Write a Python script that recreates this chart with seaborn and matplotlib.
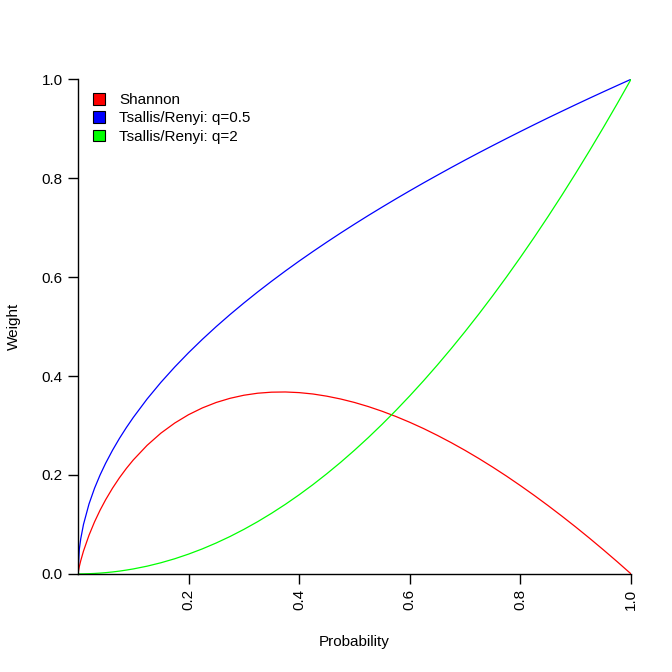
import pandas as pd
import matplotlib
matplotlib.use("Agg")
import matplotlib.pyplot as plt
from matplotlib.patches import Patch
import seaborn as sns

# valores
prob = [0, 0.0025, 0.005, 0.01, 0.02, 0.03, 0.04, 0.05, 0.0625, 0.075, 0.0875,
        0.1, 0.125, 0.15, 0.175, 0.2, 0.225, 0.25, 0.275, 0.3, 0.325,
        0.35, 0.375, 0.4, 0.425, 0.45, 0.475, 0.5, 0.525, 0.55, 0.575,
        0.6, 0.625, 0.65, 0.675, 0.7, 0.725, 0.75, 0.775, 0.8, 0.825,
        0.85, 0.875, 0.9, 0.925, 0.95, 0.975, 1.0]
shannon = [0, 0.0150, 0.0265, 0.0461, 0.0782, 0.1052, 0.1288, 0.1498, 0.1733, 0.1943, 0.2132,
           0.2303, 0.2599, 0.2846, 0.3050, 0.3219, 0.3356, 0.3466, 0.3550, 0.3612, 0.3653,
           0.3674, 0.3678, 0.3665, 0.3637, 0.3593, 0.3536, 0.3466, 0.3383, 0.3288, 0.3182,
           0.3065, 0.2938, 0.2800, 0.2653, 0.2497, 0.2332, 0.2158, 0.1976, 0.1785, 0.1587,
           0.1381, 0.1168, 0.0948, 0.0721, 0.0487, 0.0247, 0]
q05 = [0, 0.05, 0.0707, 0.1, 0.1414, 0.1732, 0.2, 0.2236, 0.25, 0.2739, 0.2958,
       0.3162, 0.3536, 0.3873, 0.4183, 0.4472, 0.4743, 0.5, 0.5244, 0.5477, 0.5701,
       0.5916, 0.6124, 0.6325, 0.6519, 0.6708, 0.6892, 0.7071, 0.7246, 0.7416, 0.7583,
       0.7746, 0.7906, 0.8062, 0.8216, 0.8367, 0.8515, 0.8660, 0.8803, 0.8944, 0.9083,
       0.9220, 0.9354, 0.9487, 0.9618, 0.9747, 0.9874, 1.0]
q2 = [0, 0.0000, 0.00003, 0.0001, 0.0004, 0.0009, 0.0016, 0.0025, 0.0039, 0.0056, 0.0077,
      0.01, 0.0156, 0.0225, 0.0306, 0.04, 0.0506, 0.0625, 0.0756, 0.09, 0.1056,
      0.1225, 0.1406, 0.16, 0.1806, 0.2025, 0.2256, 0.25, 0.2756, 0.3025, 0.3306,
      0.36, 0.3906, 0.4225, 0.4556, 0.49, 0.5256, 0.5625, 0.6006, 0.64, 0.6806,
      0.7225, 0.7656, 0.81, 0.8556, 0.9025, 0.9506, 1.0]
series = ["Shannon", "Tsallis/Renyi: q=0.5", "Tsallis/Renyi: q=2"]
colores = ["#ff0000", "#0000ff", "#00ff00"]
xticks = [0.2, 0.4, 0.6, 0.8, 1.0]
yticks = [0.0, 0.2, 0.4, 0.6, 0.8, 1.0]

df = pd.concat([
    pd.DataFrame({"Probability": prob, "Weight": v, "serie": s})
    for s, v in zip(series, [shannon, q05, q2])
])

sns.set_theme(style="white")
plt.rcParams['font.family'] = ['Liberation Sans', 'DejaVu Sans']
plt.rcParams['text.color'] = 'black'
fs = 11

fig = plt.figure(figsize=(6.72, 6.72), dpi=100)
ax = fig.add_axes([0.116, 0.146, 0.823, 0.736])
sns.lineplot(data=df, x="Probability", y="Weight", hue="serie", palette=colores,
             hue_order=series, linewidth=0.9, ax=ax, legend=False, sort=False)

ax.set_xlim(0, 1)
ax.set_ylim(0, 1)
ax.set_xticks(xticks)
ax.set_xticklabels([f"{t:.1f}" for t in xticks], rotation=90)
ax.set_yticks(yticks)
ax.set_yticklabels([f"{t:.1f}" for t in yticks])
ax.tick_params(axis="both", direction="out", length=7, width=1, color="black",
               labelsize=fs, labelcolor="black", pad=4,
               bottom=True, left=True)
for lado in ["top", "right"]:
    ax.spines[lado].set_visible(False)
for lado in ["left", "bottom"]:
    ax.spines[lado].set_color("black")
    ax.spines[lado].set_linewidth(1)
ax.set_xlabel("")
ax.set_ylabel("")
fig.text(0.527, 0.045, "Probability", ha="center", va="center", fontsize=fs, color="black")
fig.text(0.021, 0.514, "Weight", ha="center", va="center", rotation=90, fontsize=fs,
         color="black")

handles = [Patch(facecolor=c, edgecolor="black", linewidth=0.8) for c in colores]
leg = ax.legend(handles, series, loc="upper left", bbox_to_anchor=(0.016, 0.985),
                frameon=False, fontsize=fs, handlelength=0.8, handleheight=0.8,
                handletextpad=0.9, labelspacing=0.28, borderaxespad=0)
for t in leg.get_texts():
    t.set_color("black")

fig.savefig("out.png", dpi=100)
